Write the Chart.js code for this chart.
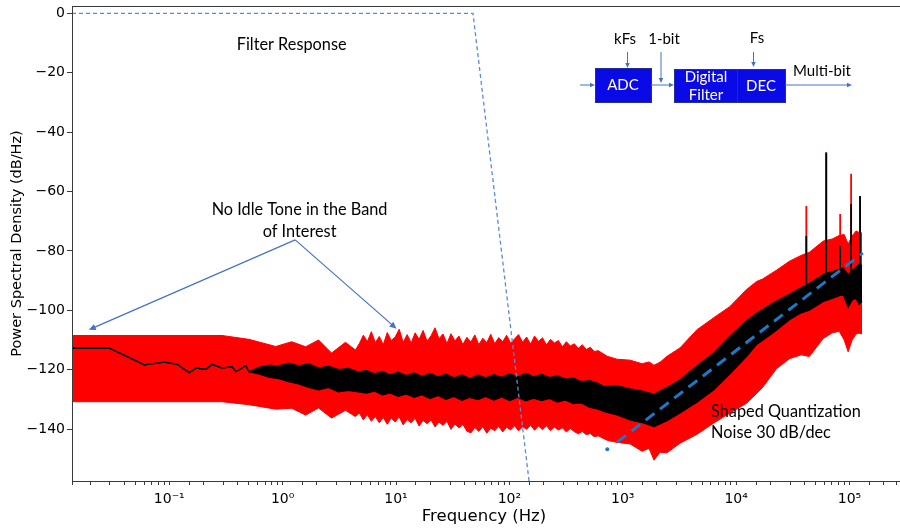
<!DOCTYPE html>
<html>
<head>
<meta charset="utf-8">
<script src="https://cdn.jsdelivr.net/npm/chart.js@4/dist/chart.umd.min.js"></script>
<style>
  html, body { margin: 0; padding: 0; background: #fff; }
  canvas { display: block; }
</style>
</head>
<body>
<canvas id="psd" width="900" height="528"></canvas>
<script>
// axis range
const xMin = 0.01387;
const xMax = 2.57e5;
const yMin = -157.5;
const yMax = 2.46;
const yTicks = [0, -20, -40, -60, -80, -100, -120, -140];

// red band (wide PSD spread)
const redHz = [0.01387, 0.292, 0.5039, 0.8698, 1.202, 1.595, 2.075, 2.699, 3.581, 4.384,
  4.75, 5.15, 5.59, 6.06, 6.57, 7.12, 7.72, 8.37, 9.07, 9.84,
  10.67, 11.57, 12.54, 13.6, 14.74, 15.98, 17.33, 18.79, 20.37, 22.08,
  23.94, 25.96, 28.15, 30.52, 33.09, 35.87, 38.89, 42.17, 45.72, 49.57,
  53.74, 58.27, 63.17, 68.49, 74.26, 80.51, 87.29, 94.64, 102.6, 111.2,
  120.6, 130.8, 141.8, 153.7, 166.7, 180.7, 195.9, 212.4, 230.3, 249.7,
  270.7, 293.5, 318.2, 345.0, 374.1, 405.6, 439.7, 476.7, 516.9, 560.4,
  607.6, 729.6, 892.9, 1161, 1481, 1705, 1887, 2130, 2454, 3192,
  4500, 6346, 8770, 12370, 15140, 17090, 22680, 29490, 37590, 44190,
  58650, 70350, 81040, 89680, 97210, 105400, 114300, 121400, 129000];
const redHi = [-108.5, -108.5, -109.8, -112.2, -110.6, -112.3, -110, -114.4, -110.8, -113.4,
  -111.2, -108.4, -110.5, -107.2, -110.9, -108.8, -111.6, -107.5, -110.2, -109.0,
  -106.4, -110.8, -108.2, -111.0, -107.6, -109.8, -106.8, -110.4, -108.6, -105.9,
  -109.6, -108.0, -111.2, -107.9, -110.3, -108.7, -111.5, -109.1, -110.7, -108.3,
  -111.6, -109.4, -110.9, -108.1, -111.3, -109.2, -110.6, -108.4, -111.1, -109.6,
  -108.2, -110.8, -109.0, -111.4, -108.7, -110.5, -109.3, -111.7, -109.8, -111.0,
  -110.2, -112.3, -110.6, -112.0, -111.3, -112.8, -111.6, -113.2, -112.5, -113.9,
  -113.6, -115.5, -116.5, -116.8, -118, -117.4, -118.5, -117.5, -115.5, -112.7,
  -106.6, -102.5, -98.8, -93, -90.3, -89.5, -86.5, -83.5, -81.5, -80.5,
  -76.7, -76, -74.8, -74.5, -77.7, -75, -73.3, -73.8, -74];
const redLo = [-130.8, -130.8, -131.8, -133.3, -133, -135.3, -132.9, -136.3, -133.7, -135.8,
  -134.6, -136.9, -135.2, -137.4, -135.8, -137.9, -136.1, -138.4, -136.3, -137.6,
  -135.9, -138.6, -136.8, -137.9, -136.4, -139.0, -137.1, -138.2, -136.9, -139.3,
  -137.6, -138.8, -137.4, -140.1, -138.3, -139.6, -138.5, -140.7, -141.3, -139.5,
  -140.8, -139.2, -141.4, -139.7, -140.6, -139.1, -141.0, -139.4, -140.3, -138.9,
  -140.6, -139.2, -140.1, -138.7, -140.4, -139.0, -140.2, -138.9, -140.5, -139.4,
  -140.3, -139.6, -141.0, -139.8, -140.9, -141.6, -140.8, -141.9, -141.5, -142.6,
  -142.3, -143.8, -144.5, -145, -147.5, -146.5, -150.5, -147.8, -148, -144.8,
  -141.8, -138, -134.7, -131.3, -128, -126, -119.7, -116.3, -115, -115.6,
  -109.5, -107.6, -107.1, -110, -114, -110, -108, -107.7, -108];

// black band (PSD trace)
const blackHz = [0.01387, 0.0297, 0.0603, 0.0904, 0.1175, 0.1498, 0.1726, 0.2113, 0.2384, 0.292,
  0.3573, 0.3876, 0.4743, 0.5039, 0.6168, 0.755, 0.924, 1.131, 1.385, 1.695,
  2.075, 2.539, 3.108, 3.805, 4.658, 5.474, 6.437, 7.566, 8.894, 10.45,
  12.29, 14.45, 16.98, 19.97, 23.48, 27.58, 32.43, 38.13, 44.83, 52.69,
  61.93, 72.81, 85.6, 100.6, 118.3, 139.0, 163.5, 192.1, 225.8, 265.5,
  312.1, 366.8, 431.3, 507.0, 596.0, 686.7, 892.9, 1161, 1481, 1887,
  2454, 3192, 4500, 6346, 8770, 12370, 15140, 21340, 29490, 36840,
  44190, 58650, 70350, 87880, 97210, 105400, 114300, 121400, 129000];
const blackHi = [-112.8, -112.8, -118.4, -117.5, -118.2, -121.0, -119.5, -119.9, -118.2, -119.5,
  -119.0, -120.7, -118.7, -120.7, -119.2, -118.5, -118.7, -117.8, -118.7, -118,
  -119.5, -118.8, -120, -119.6, -120.8, -120.3, -121.4, -120.6, -121.8, -120.9,
  -122.0, -121.1, -122.3, -121.3, -122.4, -121.5, -122.8, -121.8, -123.0, -121.8,
  -122.8, -121.7, -122.6, -121.4, -122.5, -121.2, -122.4, -121.6, -122.7, -122.0,
  -123.2, -122.9, -124.0, -123.7, -124.5, -125.7, -125.5, -126.5, -127.2, -128.3,
  -126, -123.5, -118.8, -114.4, -108.8, -103.5, -101, -97.5, -94.6, -92.5,
  -91, -88, -87, -85.8, -88, -86.5, -85.5, -84.5, -85];
const blackLo = [-112.8, -112.8, -118.4, -117.5, -118.2, -121.0, -119.5, -119.9, -118.2, -119.5,
  -119.0, -120.7, -118.7, -120.7, -121.4, -122.5, -123, -124, -124.8, -126,
  -126.8, -126, -127.5, -127, -127.5, -127.9, -127.2, -128.5, -127.8, -129.0,
  -128.2, -129.3, -128.4, -129.7, -128.7, -130.0, -129.0, -130.3, -129.3, -130.1,
  -129.0, -130.2, -129.2, -130.4, -129.3, -130.5, -129.6, -130.4, -129.7, -130.9,
  -130.2, -131.4, -131.2, -132.6, -133.2, -134.1, -135.2, -136.9, -137.8, -139.2,
  -137.2, -134.6, -131, -126.8, -121.5, -115.5, -111.5, -107.5, -103.2, -101,
  -100, -97, -96, -94.6, -99, -96.5, -96, -98, -97];

// tones near the top of the band
const spikeHz = [41590, 62320, 82700, 103300, 123900];
const spikeBase = [-92, -88, -86, -87, -86];
const spikeRedTop = [-64.9, -46.9, -67.6, -54, -61.5];
const spikeBlackTop = [-75, -46.9, -78.4, -64.2, -61.5];

// 30 dB/dec guide and filter response
const slopeHz = [893, 131000];
const slopeDb = [-144.4, -80.7];
const dotHz = [730];
const dotDb = [-146.8];
const filterHz = [xMin, 47.7, 149];
const filterDb = [0, 0, -157.5];

// annotation anchors (Hz, dB)
const filterNote = [1.2, -10.7];
const idleNote = [1.41, -66.0, -73.5];
const idleApex = [1.29, -76.3];
const idleTips = [[0.0195, -106.6], [10.1, -106.2]];
const shapedNote = [6010, -134.1, -141.4];

const pts = (xs, ys) => xs.map((v, i) => ({x: v, y: ys[i]}));
const spikes = tops => {
  const out = [];
  spikeHz.forEach((f, i) => {
    out.push({x: f, y: spikeBase[i]}, {x: f, y: tops[i]}, {x: f, y: null});
  });
  return out;
};
const sup = n => String(n).split('').map(c => ({'-': '\u207B', '0': '\u2070', '1': '\u00B9', '2': '\u00B2', '3': '\u00B3', '4': '\u2074', '5': '\u2075', '6': '\u2076', '7': '\u2077', '8': '\u2078', '9': '\u2079'}[c])).join('');

function arrow(ctx, x1, y1, x2, y2, head) {
  const a = Math.atan2(y2 - y1, x2 - x1);
  ctx.beginPath();
  ctx.moveTo(x1, y1);
  ctx.lineTo(x2 - Math.cos(a) * head * 0.6, y2 - Math.sin(a) * head * 0.6);
  ctx.stroke();
  ctx.beginPath();
  ctx.moveTo(x2, y2);
  ctx.lineTo(x2 - head * Math.cos(a) + head * 0.45 * Math.sin(a), y2 - head * Math.sin(a) - head * 0.45 * Math.cos(a));
  ctx.lineTo(x2 - head * Math.cos(a) - head * 0.45 * Math.sin(a), y2 - head * Math.sin(a) + head * 0.45 * Math.cos(a));
  ctx.closePath();
  ctx.fill();
}

const notes = {
  id: 'notes',
  afterDatasetsDraw(chart) {
    const {ctx, chartArea: a, scales: {x, y}} = chart;
    ctx.save();
    // frame (right spine falls off the picture)
    ctx.strokeStyle = '#3a3a3a';
    ctx.lineWidth = 1;
    ctx.strokeRect(Math.round(a.left) + 0.5, Math.round(a.top) + 0.5, 910, Math.round(a.bottom - a.top));

    const blue = '#4472c4';
    ctx.fillStyle = '#000';
    ctx.textAlign = 'center';
    ctx.textBaseline = 'middle';
    ctx.font = '16.3px Lato';
    ctx.fillText('Filter Response', x.getPixelForValue(filterNote[0]), y.getPixelForValue(filterNote[1]));
    ctx.fillText('No Idle Tone in the Band', x.getPixelForValue(idleNote[0]), y.getPixelForValue(idleNote[1]));
    ctx.fillText('of Interest', x.getPixelForValue(idleNote[0]), y.getPixelForValue(idleNote[2]));
    ctx.textAlign = 'left';
    ctx.fillText('Shaped Quantization', x.getPixelForValue(shapedNote[0]), y.getPixelForValue(shapedNote[1]));
    ctx.fillText('Noise 30 dB/dec', x.getPixelForValue(shapedNote[0]), y.getPixelForValue(shapedNote[2]));

    ctx.strokeStyle = blue;
    ctx.fillStyle = blue;
    ctx.lineWidth = 1.2;
    const ax = x.getPixelForValue(idleApex[0]), ay = y.getPixelForValue(idleApex[1]);
    idleTips.forEach(t => arrow(ctx, ax, ay, x.getPixelForValue(t[0]), y.getPixelForValue(t[1]), 7));

    // block diagram inset
    ctx.fillStyle = '#0a0ae6';
    ctx.strokeStyle = '#24308f';
    ctx.lineWidth = 1;
    ctx.fillRect(595, 68, 56, 34);
    ctx.strokeRect(595.5, 68.5, 56, 34);
    ctx.fillRect(674, 69, 111, 33);
    ctx.strokeRect(674.5, 69.5, 111, 33);
    ctx.beginPath();
    ctx.moveTo(737.5, 69.5);
    ctx.lineTo(737.5, 102.5);
    ctx.stroke();

    ctx.fillStyle = '#fff';
    ctx.textAlign = 'center';
    ctx.font = '15px Lato';
    ctx.fillText('ADC', 623, 85);
    ctx.fillText('Digital', 706, 77);
    ctx.fillText('Filter', 706, 95);
    ctx.fillText('DEC', 761, 86);
    ctx.fillStyle = '#000';
    ctx.fillText('kFs', 625, 39);
    ctx.fillText('1-bit', 664, 39);
    ctx.fillText('Fs', 757, 38);
    ctx.fillText('Multi-bit', 822, 71);

    ctx.strokeStyle = blue;
    ctx.fillStyle = blue;
    ctx.lineWidth = 1;
    arrow(ctx, 580, 85, 595, 85, 5);
    arrow(ctx, 627.5, 52, 627.5, 68, 5);
    arrow(ctx, 661, 52, 661, 83, 5);
    arrow(ctx, 651, 85, 674, 85, 5);
    arrow(ctx, 753.5, 52, 753.5, 67, 5);
    arrow(ctx, 785, 85, 852, 85, 5);
    ctx.restore();
  }
};

new Chart(document.getElementById('psd'), {
  type: 'line',
  data: {
    datasets: [
      {data: pts(redHz, redHi), borderColor: '#ff0000', backgroundColor: '#ff0000', borderWidth: 1, fill: '+1', order: 10},
      {data: pts(redHz, redLo), borderColor: '#ff0000', borderWidth: 1, fill: false, order: 10},
      {data: spikes(spikeRedTop), borderColor: '#ff0000', borderWidth: 1.8, spanGaps: false, order: 9},
      {data: pts(blackHz, blackHi), borderColor: '#000', backgroundColor: '#000', borderWidth: 1.3, fill: '+1', order: 8},
      {data: pts(blackHz, blackLo), borderColor: '#000', borderWidth: 1.3, fill: false, order: 8},
      {data: spikes(spikeBlackTop), borderColor: '#000', borderWidth: 1.8, spanGaps: false, order: 7},
      {data: pts(slopeHz, slopeDb), borderColor: '#1f77c8', borderWidth: 3, borderDash: [11, 7], order: 2},
      {data: pts(dotHz, dotDb), showLine: false, pointRadius: 2, pointBackgroundColor: '#1f77c8', pointBorderWidth: 0, order: 2},
      {data: pts(filterHz, filterDb), borderColor: '#5b8ad6', borderWidth: 1.3, borderDash: [4, 3], order: 1}
    ]
  },
  options: {
    animation: false,
    responsive: false,
    devicePixelRatio: 1,
    layout: {padding: {top: 6, right: 0, left: 0, bottom: 0}},
    elements: {point: {radius: 0}, line: {tension: 0}},
    plugins: {legend: {display: false}, tooltip: {enabled: false}},
    scales: {
      x: {
        type: 'logarithmic',
        min: xMin,
        max: xMax,
        grid: {drawOnChartArea: false, tickLength: 4, color: '#3a3a3a'},
        border: {color: '#3a3a3a'},
        ticks: {
          autoSkip: false, maxRotation: 0, padding: 6, color: '#000',
          font: {family: 'DejaVu Sans', size: 14},
          callback: v => {
            const e = Math.log10(v);
            return Math.abs(e - Math.round(e)) < 1e-6 ? '10' + sup(Math.round(e)) : '';
          }
        },
        title: {display: true, text: 'Frequency (Hz)', color: '#000', font: {family: 'DejaVu Sans', size: 16.5}, padding: {top: 0, bottom: 1}},
        afterFit: s => { s.height = 47; s.paddingLeft = 0; s.paddingRight = 0; }
      },
      y: {
        min: yMin,
        max: yMax,
        afterBuildTicks: s => { s.ticks = yTicks.map(v => ({value: v})); },
        grid: {drawOnChartArea: false, tickLength: 5, color: '#3a3a3a'},
        border: {color: '#3a3a3a'},
        ticks: {
          padding: 2, color: '#000',
          font: {family: 'DejaVu Sans', size: 14},
          callback: v => v === 0 ? '0' : '\u2212' + Math.abs(v)
        },
        title: {display: true, text: 'Power Spectral Density (dB/Hz)', color: '#000', font: {family: 'DejaVu Sans', size: 14.5}, padding: {top: 9, bottom: 0}},
        afterFit: s => { s.width = 72; s.paddingTop = 0; s.paddingBottom = 0; }
      }
    }
  },
  plugins: [notes]
});
</script>
</body>
</html>
